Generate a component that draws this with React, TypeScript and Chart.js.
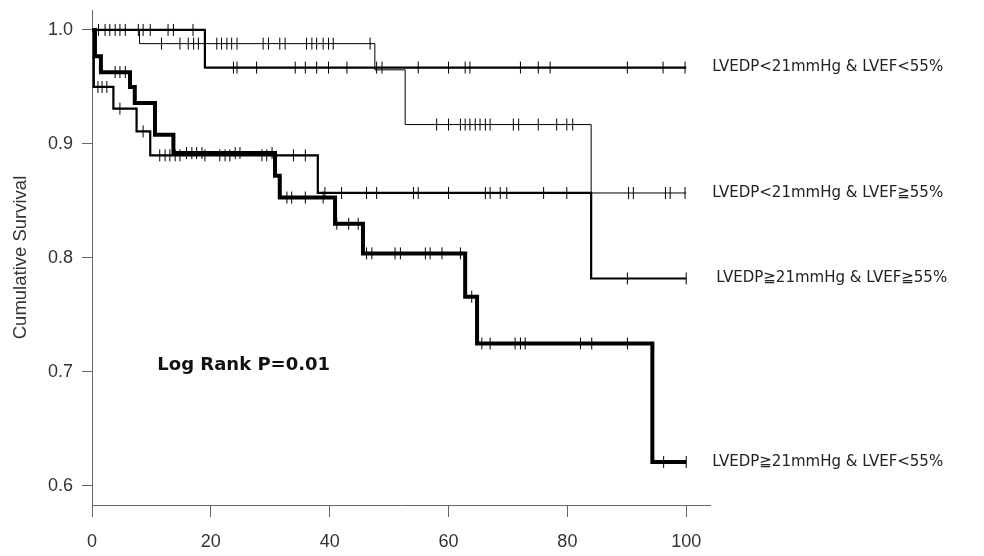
import React, { useEffect, useRef } from "react";
import { Chart, registerables } from "chart.js";

Chart.register(...registerables);

// ---- Data ----
const xTickValues = [0, 20, 40, 60, 80, 100];
const yTickValues = [0.6, 0.7, 0.8, 0.9, 1.0];

const seriesNames = [
  "LVEDP<21mmHg & LVEF<55%",
  "LVEDP<21mmHg & LVEF≧55%",
  "LVEDP≧21mmHg & LVEF≧55%",
  "LVEDP≧21mmHg & LVEF<55%",
];

// Curve A: LVEDP<21mmHg & LVEF<55%
const aTimes = [0, 19, 100];
const aSurv = [1.0, 0.967, 0.967];
const aCensor = [1.1, 2.2, 3.0, 3.9, 4.7, 5.6, 7.8, 8.6, 9.8, 12.8, 13.7, 17.0, 23.8, 24.4, 27.7, 34.2, 35.9, 37.8, 39.8, 42.9, 47.9, 48.8, 54.9, 60.0, 62.8, 63.6, 72.1, 75.1, 77.1, 90.1, 96.1, 99.8];

// Curve B: LVEDP<21mmHg & LVEF>=55%
const bTimes = [0, 8, 47.6, 52.7, 84, 100];
const bSurv = [1.0, 0.988, 0.965, 0.917, 0.857, 0.857];
const bCensor = [11.7, 14.8, 16.2, 17.1, 17.9, 21.0, 21.8, 22.7, 23.5, 24.4, 28.8, 29.7, 31.6, 32.5, 36.1, 37.0, 37.8, 38.9, 39.8, 40.6, 46.8, 58.0, 60.0, 62.0, 62.8, 63.6, 64.5, 65.3, 66.2, 67.0, 70.9, 71.8, 75.1, 78.2, 79.9, 80.9, 90.3, 91.1, 96.5, 97.3, 99.8];

// Curve C: LVEDP>=21mmHg & LVEF>=55%
const cTimes = [0, 0.3, 3.6, 7.5, 9.8, 38, 84, 100];
const cSurv = [1.0, 0.95, 0.931, 0.911, 0.89, 0.857, 0.782, 0.782];
const cCensor = [1.0, 1.7, 2.5, 4.7, 8.6, 11.4, 12.3, 13.1, 14.0, 14.8, 19.0, 21.5, 22.4, 23.2, 28.6, 29.4, 33.9, 35.9, 39.2, 42.0, 46.2, 47.9, 54.1, 54.9, 60.0, 66.2, 67.0, 68.7, 69.8, 76.0, 79.9, 90.1, 100];

// Curve D: LVEDP>=21mmHg & LVEF<55%
const dTimes = [0, 0.5, 1.5, 6.4, 7.2, 10.6, 13.7, 30.8, 31.6, 40.9, 45.6, 62.8, 64.8, 94.3, 100];
const dSurv = [1.0, 0.977, 0.963, 0.95, 0.936, 0.908, 0.892, 0.872, 0.853, 0.83, 0.804, 0.766, 0.725, 0.621, 0.621];
const dCensor = [3.9, 4.7, 5.6, 15.9, 16.8, 17.6, 18.5, 24.1, 24.9, 30.3, 32.8, 33.6, 35.9, 38.9, 41.2, 43.2, 44.8, 46.2, 47.1, 51.0, 51.9, 56.1, 56.9, 58.9, 62.0, 63.9, 65.6, 67.0, 71.2, 72.1, 72.9, 82.2, 84.1, 90.1, 96.2, 100];

const logRankText = "Log Rank P=0.01";

// ---- helpers ----
function survAt(times: number[], surv: number[], t: number): number {
  let s = surv[0];
  for (let i = 0; i < times.length; i++) {
    if (times[i] <= t) s = surv[i];
  }
  return s;
}

const curves = [
  { times: aTimes, surv: aSurv, censor: aCensor, width: 2.2, labelDx: 26 },
  { times: bTimes, surv: bSurv, censor: bCensor, width: 1, labelDx: 26 },
  { times: cTimes, surv: cSurv, censor: cCensor, width: 2.2, labelDx: 30 },
  { times: dTimes, surv: dSurv, censor: dCensor, width: 4, labelDx: 26 },
];

export default function App() {
  const canvasRef = useRef<HTMLCanvasElement | null>(null);

  useEffect(() => {
    const canvas = canvasRef.current;
    if (!canvas) return;

    const datasets: any[] = [];
    curves.forEach((c, i) => {
      datasets.push({
        label: seriesNames[i],
        data: c.times.map((t, j) => ({ x: t, y: c.surv[j] })),
        stepped: true,
        borderColor: "#000",
        borderWidth: c.width,
        pointRadius: 0,
        fill: false,
      });
    });
    curves.forEach((c, i) => {
      datasets.push({
        label: seriesNames[i] + " censored",
        data: c.censor.map((t) => ({ x: t, y: survAt(c.times, c.surv, t) })),
        showLine: false,
        pointStyle: "line",
        rotation: 90,
        pointRadius: 6,
        pointBorderWidth: 1,
        pointBorderColor: "#000",
        borderColor: "#000",
        pointHoverRadius: 6,
      });
    });

    const labelPlugin = {
      id: "kmLabels",
      afterDatasetsDraw(chart: any) {
        const ctx = chart.ctx;
        const xs = chart.scales.x;
        const ys = chart.scales.y;
        ctx.save();
        ctx.fillStyle = "#222";
        ctx.textBaseline = "middle";
        ctx.textAlign = "left";
        ctx.font = '15px "DejaVu Sans", Verdana, sans-serif';
        curves.forEach((c, i) => {
          const n = c.times.length - 1;
          const px = xs.getPixelForValue(c.times[n]) + c.labelDx;
          const py = ys.getPixelForValue(c.surv[n]);
          ctx.fillText(seriesNames[i], px, py);
        });
        ctx.font = 'bold 18px "DejaVu Sans", Verdana, sans-serif';
        ctx.fillStyle = "#111";
        ctx.fillText(logRankText, xs.getPixelForValue(11), ys.getPixelForValue(0.706));
        ctx.restore();
      },
    };

    const chart = new Chart(canvas, {
      type: "line",
      data: { datasets },
      options: {
        animation: false,
        responsive: true,
        maintainAspectRatio: false,
        layout: { padding: { left: 0, top: 10, right: 274, bottom: 0 } },
        plugins: {
          legend: { display: false },
          tooltip: { enabled: false },
        },
        scales: {
          x: {
            type: "linear",
            min: 0,
            max: 104,
            afterBuildTicks: (scale: any) => {
              scale.ticks = xTickValues.map((v) => ({ value: v }));
            },
            afterFit: (scale: any) => {
              scale.height = 51;
              scale.paddingLeft = 0;
              scale.paddingRight = 0;
            },
            grid: {
              drawOnChartArea: false,
              drawTicks: true,
              tickLength: 12,
              color: "#666",
            },
            border: { display: true, color: "#666", width: 1 },
            ticks: {
              padding: 14,
              color: "#333",
              font: { family: '"Liberation Sans", Arial, sans-serif', size: 18 },
              callback: (v: any) => String(v),
            },
          },
          y: {
            type: "linear",
            min: 0.5833,
            max: 1.0175,
            afterBuildTicks: (scale: any) => {
              scale.ticks = yTickValues.map((v) => ({ value: v }));
            },
            afterFit: (scale: any) => {
              scale.width = 92;
              scale.paddingTop = 0;
              scale.paddingBottom = 0;
            },
            grid: {
              drawOnChartArea: false,
              drawTicks: true,
              tickLength: 10,
              color: "#666",
            },
            border: { display: true, color: "#666", width: 1 },
            ticks: {
              padding: 9,
              color: "#333",
              font: { family: '"Liberation Sans", Arial, sans-serif', size: 18 },
              callback: (v: any) => Number(v).toFixed(1),
            },
            title: {
              display: true,
              text: "Cumulative Survival",
              color: "#333",
              padding: { top: 10, bottom: 0 },
              font: { family: '"Liberation Sans", Arial, sans-serif', size: 18.5, weight: "normal" },
            },
          },
        },
      },
      plugins: [labelPlugin],
    } as any);

    return () => {
      chart.destroy();
    };
  }, []);

  return (
    <div style={{ position: "absolute", left: 0, top: 0, width: 984, height: 556, background: "#fff" }}>
      <canvas ref={canvasRef} />
    </div>
  );
}
